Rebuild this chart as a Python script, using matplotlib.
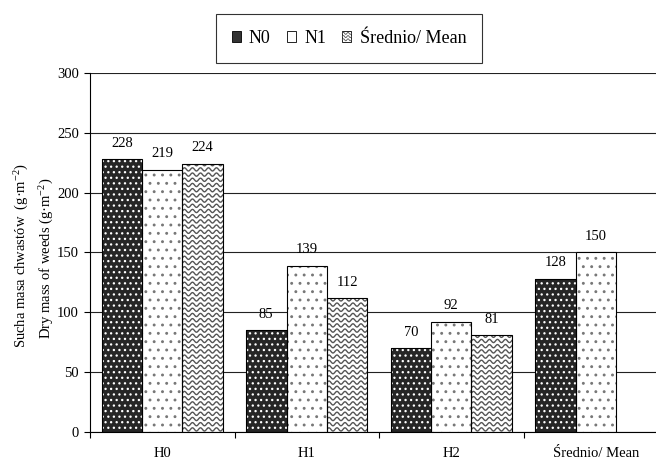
import numpy as np
import matplotlib
matplotlib.use("Agg")
import matplotlib.pyplot as plt
from matplotlib.patches import Rectangle
from matplotlib.legend_handler import HandlerBase

plt.rcParams['font.family'] = ['Liberation Serif', 'DejaVu Serif']
plt.rcParams['mathtext.fontset'] = 'custom'
plt.rcParams['mathtext.rm'] = 'Liberation Serif'
plt.rcParams['mathtext.it'] = 'Liberation Serif:italic'
plt.rcParams['hatch.linewidth'] = 0.9

# data
categories = ['H0', 'H1', 'H2', 'Średnio/ Mean']
series_names = ['N0', 'N1', 'Średnio/ Mean']
n0 = [228, 85, 70, 128]
n1 = [219, 139, 92, 150]
mean = [224, 112, 81, np.nan]

fig = plt.figure(figsize=(6.56, 4.62), dpi=100)
ax = fig.add_axes([90 / 656, 1 - 432 / 462, 578 / 656, 359 / 462])

x = np.arange(len(categories))
w = 0.28
ax.set_xlim(-0.5, len(categories) - 0.5)
ax.set_ylim(0, 300)

# N0: dark with white dots
b0 = ax.bar(x - w, n0, w, color='#262626', edgecolor='white', hatch='...', lw=0, zorder=2)
ax.bar(x - w, n0, w, fill=False, edgecolor='black', lw=0.8, zorder=3)
# N1: white with grey dots
b1 = ax.bar(x, n1, w, color='white', edgecolor='#777777', hatch='..', lw=0, zorder=2)
ax.bar(x, n1, w, fill=False, edgecolor='black', lw=0.8, zorder=3)
# mean: white with wavy lines
b2 = ax.bar(x + w, mean, w, color='white', lw=0, zorder=2)
ax.bar(x + w, mean, w, fill=False, edgecolor='black', lw=0.8, zorder=3)

# wavy fill, sized in pixels
px_x = 1 / (ax.transData.transform((1, 0))[0] - ax.transData.transform((0, 0))[0])
px_y = 1 / (ax.transData.transform((0, 1))[1] - ax.transData.transform((0, 0))[1])
period, gap, amp = 8 * px_x, 5.2 * px_y, 1.6 * px_y
for rect in b2:
    h = rect.get_height()
    if not np.isfinite(h):
        continue
    x0 = rect.get_x()
    xs = np.linspace(x0, x0 + rect.get_width(), 80)
    for y0 in np.arange(gap / 2, h + gap, gap):
        ln, = ax.plot(xs, y0 + amp * np.sin(2 * np.pi * (xs - x0) / period),
                      color='#555555', lw=1.0, zorder=2.5)
        ln.set_clip_path(rect)

# value labels
for bars, vals in [(b0, n0), (b1, n1), (b2, mean)]:
    for rect, v in zip(bars, vals):
        if not np.isfinite(v):
            continue
        ax.annotate('%d' % v, (rect.get_x() + rect.get_width() / 2, v),
                    xytext=(0, 11.5), textcoords='offset points',
                    ha='center', va='center', fontsize=10.5)

ax.yaxis.grid(True, color='#222222', lw=0.8)
ax.set_axisbelow(True)
ax.spines['top'].set_visible(False)
ax.spines['right'].set_visible(False)
ax.spines['left'].set_linewidth(0.8)
ax.spines['bottom'].set_linewidth(0.8)

ax.set_yticks(range(0, 301, 50))
ax.tick_params(axis='y', direction='out', length=4, width=0.8, pad=4, labelsize=10.5)
ax.set_xticks(np.arange(len(categories) + 1) - 0.5)
ax.set_xticklabels([])
ax.tick_params(axis='x', which='major', direction='out', length=4, width=0.8)
ax.set_xticks(x, minor=True)
ax.set_xticklabels(categories, minor=True)
ax.tick_params(axis='x', which='minor', length=0, pad=11, labelsize=10.5)

fig.text(22 / 656, 1 - 256 / 462, 'Sucha masa chwastów  (g·m$^{-2}$)',
         rotation=90, ha='center', va='center', fontsize=10.5)
fig.text(47 / 656, 1 - 258 / 462, 'Dry mass of weeds (g·m$^{-2}$)',
         rotation=90, ha='center', va='center', fontsize=10.5)


class WaveHandler(HandlerBase):
    def create_artists(self, legend, orig_handle, xdescent, ydescent,
                       width, height, fontsize, trans):
        r = Rectangle((-xdescent, -ydescent), width, height, fc='white',
                      ec='black', lw=0.6, transform=trans)
        arts = [r]
        xs = np.linspace(-xdescent, -xdescent + width, 20)
        for k in range(3):
            ys = -ydescent + height * (k + 0.6) / 3.2 + height * 0.1 * np.sin(xs / width * 4 * np.pi)
            arts.append(plt.Line2D(xs, ys, color='#555555', lw=0.6, transform=trans))
        return arts


h0 = Rectangle((0, 0), 1, 1, fc='#333333', ec='black', lw=0.6)
h1 = Rectangle((0, 0), 1, 1, fc='white', ec='black', lw=0.6)
h2 = Rectangle((0, 0), 1, 1, fc='white', ec='black', lw=0.6)
leg = fig.legend([h0, h1, h2], series_names, loc='center',
                 bbox_to_anchor=(349 / 656, 1 - 38.5 / 462), ncol=3,
                 fontsize=13, frameon=True, fancybox=False,
                 handlelength=0.5, handleheight=0.5, handletextpad=0.45,
                 columnspacing=0.9, borderpad=0.9, borderaxespad=0,
                 handler_map={h2: WaveHandler()})
leg.get_frame().set_edgecolor('black')
leg.get_frame().set_linewidth(0.8)

fig.savefig('out.png', dpi=100)
